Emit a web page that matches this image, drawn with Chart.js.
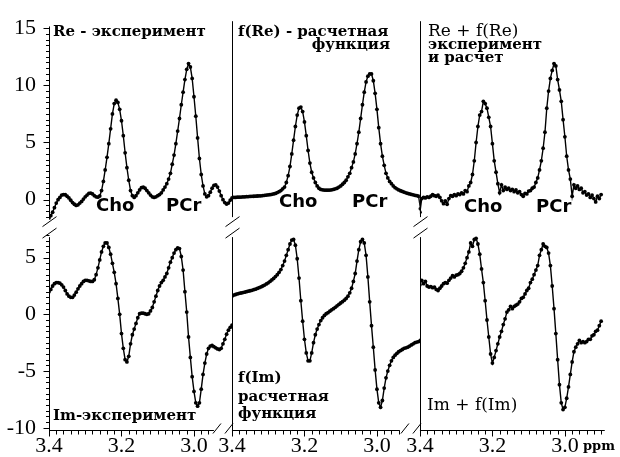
<!DOCTYPE html>
<html>
<head>
<meta charset="utf-8">
<script src="https://cdn.jsdelivr.net/npm/chart.js@4.4.1/dist/chart.umd.min.js"></script>
<style>
  html, body { margin: 0; padding: 0; background: #fff; }
  #wrap { position: relative; width: 620px; height: 457px; overflow: hidden; }
  #chart { position: absolute; left: 0; top: 0; }
  .lbl { position: absolute; color: #000; white-space: nowrap; line-height: 1; }
  .sb { font-family: "DejaVu Serif"; font-weight: bold; font-size: 15px; }
  .sr { font-family: "DejaVu Serif"; font-size: 17px; }
  .pk { font-family: "DejaVu Sans"; font-weight: bold; font-size: 18px; }
  .unit { font-family: "DejaVu Serif"; font-weight: bold; font-size: 13px; }
</style>
</head>
<body>
<div id="wrap">
  <canvas id="chart" width="620" height="457"></canvas>

  <div class="lbl sb" style="left:53px;top:24px">Re - эксперимент</div>
  <div class="lbl pk" style="left:96px;top:196px">Cho</div>
  <div class="lbl pk" style="left:166px;top:196px">PCr</div>

  <div class="lbl sb" style="left:238px;top:24px">f(Re) - расчетная</div>
  <div class="lbl sb" style="right:230px;top:37px">функция</div>
  <div class="lbl pk" style="left:279px;top:192px">Cho</div>
  <div class="lbl pk" style="left:352px;top:192px">PCr</div>

  <div class="lbl sr" style="left:428px;top:22px">Re + f(Re)</div>
  <div class="lbl sb" style="left:428px;top:37px">эксперимент</div>
  <div class="lbl sb" style="left:428px;top:50px">и расчет</div>
  <div class="lbl pk" style="left:464px;top:197px">Cho</div>
  <div class="lbl pk" style="left:536px;top:197px">PCr</div>

  <div class="lbl sb" style="left:53px;top:408px">Im-эксперимент</div>
  <div class="lbl sb" style="left:238px;top:370px">f(Im)</div>
  <div class="lbl sb" style="left:238px;top:389px">расчетная</div>
  <div class="lbl sb" style="left:238px;top:406px">функция</div>
  <div class="lbl sr" style="left:427px;top:396px">Im + f(Im)</div>

  <div class="lbl unit" style="left:583px;top:439px">ppm</div>
</div>

<script>
/* MRS spectra: Re / Im parts, experiment vs. calculated function */

// chemical shift, ppm (shared by every panel)
const ppm = [
  3.400, 3.395, 3.390, 3.385, 3.380, 3.375, 3.370, 3.365, 3.360, 3.355,
  3.350, 3.345, 3.340, 3.335, 3.330, 3.325, 3.320, 3.315, 3.310, 3.305,
  3.300, 3.295, 3.290, 3.285, 3.280, 3.275, 3.270, 3.265, 3.260, 3.255,
  3.250, 3.245, 3.240, 3.235, 3.230, 3.225, 3.220, 3.215, 3.210, 3.205,
  3.200, 3.195, 3.190, 3.185, 3.180, 3.175, 3.170, 3.165, 3.160, 3.155,
  3.150, 3.145, 3.140, 3.135, 3.130, 3.125, 3.120, 3.115, 3.110, 3.105,
  3.100, 3.095, 3.090, 3.085, 3.080, 3.075, 3.070, 3.065, 3.060, 3.055,
  3.050, 3.045, 3.040, 3.035, 3.030, 3.025, 3.020, 3.015, 3.010, 3.005,
  3.000, 2.995, 2.990, 2.985, 2.980, 2.975, 2.970, 2.965, 2.960, 2.955,
  2.950, 2.945, 2.940, 2.935, 2.930, 2.925, 2.920, 2.915, 2.910, 2.905,
  2.900, 2.895, 2.890, 2.885, 2.880
];

// Re - эксперимент
const reExp = [
  -1.6, -1.4, -1.1, -0.7, -0.3, 0.0, 0.2, 0.4, 0.45, 0.43,
  0.3, 0.15, -0.05, -0.25, -0.4, -0.5, -0.45, -0.3, -0.15, 0.05,
  0.25, 0.4, 0.55, 0.58, 0.5, 0.35, 0.25, 0.22, 0.32, 0.8,
  1.6, 2.6, 3.7, 4.9, 6.2, 7.5, 8.4, 8.7, 8.5, 7.9,
  6.9, 5.6, 4.1, 2.8, 1.7, 0.8, 0.35, 0.2, 0.35, 0.6,
  0.85, 1.05, 1.1, 1.0, 0.8, 0.6, 0.4, 0.25, 0.2, 0.25,
  0.35, 0.45, 0.6, 0.85, 1.1, 1.4, 1.8, 2.3, 3.1, 3.9,
  4.9, 6.0, 7.1, 8.3, 9.4, 10.5, 11.4, 11.9, 11.6, 10.6,
  9.0, 7.3, 5.4, 3.6, 2.2, 1.2, 0.5, 0.25, 0.35, 0.65,
  1.0, 1.25, 1.3, 1.1, 0.75, 0.35, 0.0, -0.25, -0.38, -0.3,
  -0.05, 0.15, null, null, null
];

// f(Re) - расчетная функция
const reFit = [
  0.2, 0.2, 0.2, 0.22, 0.22, 0.23, 0.24, 0.25, 0.26, 0.27,
  0.28, 0.29, 0.3, 0.31, 0.32, 0.33, 0.34, 0.36, 0.38, 0.4,
  0.42, 0.44, 0.47, 0.5, 0.55, 0.62, 0.7, 0.8, 0.95, 1.1,
  1.5, 2.1, 2.9, 4.0, 5.2, 6.4, 7.4, 8.0, 8.1, 7.7,
  6.8, 5.6, 4.3, 3.2, 2.4, 1.9, 1.5, 1.2, 1.0, 0.9,
  0.86, 0.84, 0.83, 0.83, 0.84, 0.86, 0.9, 0.95, 1.0, 1.1,
  1.2, 1.35, 1.5, 1.7, 2.0, 2.3, 2.8, 3.3, 4.0, 4.9,
  5.9, 7.1, 8.3, 9.4, 10.3, 10.8, 11.0, 11.0, 10.4, 9.3,
  7.9, 6.3, 4.9, 3.8, 3.0, 2.3, 1.9, 1.6, 1.4, 1.2,
  1.05, 0.95, 0.85, 0.78, 0.72, 0.66, 0.6, 0.55, 0.5, 0.46,
  0.42, 0.38, 0.35, 0.3, -0.8
];

// Re + f(Re)
const reSum = [
  -1.1, 0.1, 0.2, 0.15, 0.25, 0.2, 0.3, 0.45, 0.35, 0.3,
  0.4, 0.2, -0.1, -0.35, -0.1, -0.4, 0.1, 0.35, 0.3, 0.45,
  0.35, 0.5, 0.45, 0.6, 0.5, 0.8, 0.7, 1.2, 1.5, 2.2,
  3.4, 5.0, 6.4, 7.4, 7.7, 8.6, 8.4, 8.0, 7.2, 6.4,
  4.9, 3.4, 2.4, 1.4, 0.6, 1.3, 0.8, 1.1, 0.9, 1.0,
  0.8, 0.9, 0.7, 0.85, 0.6, 0.7, 0.45, 0.3, 0.55, 0.5,
  0.75, 0.8, 1.0, 1.1, 1.5, 1.9, 2.6, 3.4, 4.5, 5.9,
  8.0, 9.5, 10.6, 11.3, 11.9, 11.7, 10.5, 9.6, 8.6, 7.0,
  5.5, 3.8, 2.6, 1.8, 0.3, 1.3, 1.0, 1.2, 0.9, 1.0,
  0.6, 0.7, 0.4, 0.5, 0.2, 0.4, 0.1, -0.2, 0.3, 0.1,
  0.45, null, null, null, null
];

// Im - эксперимент
const imExp = [
  2.0, 2.2, 2.5, 2.7, 2.8, 2.8, 2.75, 2.6, 2.4, 2.1,
  1.8, 1.6, 1.5, 1.5, 1.7, 1.95, 2.25, 2.5, 2.7, 2.9,
  3.0, 3.0, 2.95, 2.9, 2.9, 3.05, 3.5, 4.1, 4.8, 5.5,
  6.0, 6.3, 6.3, 5.9, 5.3, 4.5, 3.7, 2.7, 1.4, 0.0,
  -1.7, -3.0, -4.0, -4.2, -3.7, -2.6, -1.8, -1.3, -0.8, -0.3,
  0.05, 0.1, 0.1, 0.05, 0.0, 0.05, 0.3, 0.6, 1.1, 1.6,
  2.1, 2.5, 2.8, 3.0, 3.3, 3.6, 4.1, 4.6, 5.0, 5.4,
  5.7, 5.85, 5.8, 5.1, 3.9, 2.0, 0.2, -2.0, -3.8, -5.5,
  -6.8, -7.8, -8.1, -7.8, -6.6, -5.3, -4.3, -3.5, -3.0, -2.8,
  -2.75, -2.85, -2.95, -3.05, -3.1, -3.0, -2.6, -2.2, -1.75, -1.4,
  -1.15, -0.95, null, null, null
];

// f(Im) - расчетная функция
const imFit = [
  1.6, 1.7, 1.75, 1.8, 1.85, 1.88, 1.92, 1.95, 2.0, 2.04,
  2.08, 2.12, 2.17, 2.22, 2.28, 2.35, 2.42, 2.5, 2.58, 2.68,
  2.78, 2.9, 3.03, 3.17, 3.33, 3.5, 3.7, 3.95, 4.3, 4.7,
  5.2, 5.7, 6.2, 6.55, 6.6, 6.1, 4.9, 3.2, 1.2, -0.6,
  -2.2, -3.4, -4.1, -4.1, -3.4, -2.5, -1.8, -1.3, -0.9, -0.55,
  -0.3, -0.1, 0.05, 0.15, 0.28, 0.4, 0.5, 0.62, 0.75, 0.87,
  1.0, 1.12, 1.25, 1.4, 1.6, 1.9, 2.3, 2.9, 3.6, 4.7,
  5.7, 6.4, 6.6, 6.3, 5.2, 3.3, 1.1, -1.0, -2.9, -4.9,
  -6.6, -7.8, -8.2, -7.6, -6.5, -5.6, -5.0, -4.5, -4.1, -3.8,
  -3.6, -3.45, -3.3, -3.2, -3.1, -3.0, -2.95, -2.9, -2.8, -2.7,
  -2.6, -2.5, -2.45, -2.4, -2.3
];

// Im + f(Im)
const imSum = [
  2.6, 3.0, 2.7, 2.9, 2.5, 2.4, 2.45, 2.35, 2.4, 2.2,
  2.1, 2.3, 2.5, 2.7, 2.8, 2.75, 3.0, 3.2, 3.4, 3.3,
  3.45, 3.5, 3.6, 3.8, 4.1, 4.5, 5.0, 5.5, 6.3, 6.0,
  6.6, 6.7, 6.2, 5.3, 4.0, 2.8, 1.2, -0.5, -2.0, -3.5,
  -4.3, -3.8, -3.2, -2.6, -2.0, -1.5, -0.9, -0.4, 0.2, 0.4,
  0.7, 0.5, 0.7, 0.8, 0.9, 1.1, 1.4, 1.5, 1.8, 2.1,
  2.3, 2.8, 3.1, 3.5, 3.9, 4.3, 5.2, 5.7, 6.2, 6.0,
  5.9, 5.4, 4.3, 2.5, 0.5, -1.7, -4.0, -6.2, -7.8, -8.4,
  -8.2, -7.4, -6.4, -5.3, -4.2, -3.3, -2.9, -2.6, -2.3, -2.5,
  -2.4, -2.5, -2.4, -2.2, -2.2, -1.9, -1.8, -1.5, -1.4, -1.0,
  -0.6, null, null, null, null
];

const xTicks = [3.4, 3.2, 3.0];
const topTicks = [0, 5, 10, 15];
const botTicks = [-10, -5, 0, 5];
const xAxisEnd = [2.945, 2.937, 2.89]; // where each drawn ppm axis stops

const tickFont = { family: "Liberation Serif", size: 22 };

function series(vals, xId, yId) {
  return {
    data: ppm.map((x, i) => ({ x: x, y: vals[i] })),
    xAxisID: xId,
    yAxisID: yId,
    borderColor: "#000",
    backgroundColor: "#000",
    borderWidth: 1.4,
    pointRadius: 1.9,
    pointBorderWidth: 0,
    tension: 0
  };
}

function xScale(min, weight) {
  return {
    type: "linear",
    position: "bottom",
    stack: "ppm",
    stackWeight: weight,
    reverse: true,
    min: min,
    max: 3.4,
    grid: { display: false, drawTicks: false },
    border: { display: false },
    ticks: {
      font: tickFont, color: "#000", padding: 3, maxRotation: 0, autoSkip: false,
      callback: v => v.toFixed(1)
    },
    afterBuildTicks: s => { s.ticks = xTicks.map(v => ({ value: v })); },
    afterFit: s => { s.height = 27; }
  };
}

function yScale(min, max, weight, list) {
  return {
    type: "linear",
    position: "left",
    stack: "amp",
    stackWeight: weight,
    min: min,
    max: max,
    grid: { display: false, drawTicks: false },
    border: { display: false },
    ticks: { font: tickFont, color: "#000", padding: 13, callback: v => String(v) },
    afterBuildTicks: s => { s.ticks = list.map(v => ({ value: v })); },
    afterFit: s => { s.width = 49; }
  };
}

// axis lines, minor ticks, panel dividers and the "//" breaks
const framePlugin = {
  id: "frame",
  afterDraw(chart) {
    const { ctx, scales } = chart;
    const { x1, x2, x3, yTop, yBot } = scales;
    const gap = yTop.bottom;
    const base = Math.round(x1.top) + 0.5;
    const top = yTop.top - 5;
    const seg = (ax, ay, bx, by) => { ctx.beginPath(); ctx.moveTo(ax, ay); ctx.lineTo(bx, by); ctx.stroke(); };
    const slash = (cx, cy, w, h) => seg(cx - w, cy + h, cx + w, cy - h);

    ctx.save();
    ctx.strokeStyle = "#000";
    ctx.lineWidth = 1;

    // left amplitude axis
    const ax = Math.round(yTop.right) + 0.5;
    seg(ax, yTop.getPixelForValue(15.15), ax, gap - 10);
    seg(ax, gap + 10, ax, base);
    for (let i = -3; i <= 30; i++) {
      const y = Math.round(yTop.getPixelForValue(i / 2)) + 0.5;
      seg(ax - (i % 10 === 0 ? 6 : 3.5), y, ax, y);
    }
    for (let i = -20; i <= 14; i++) {
      const y = Math.round(yBot.getPixelForValue(i / 2)) + 0.5;
      seg(ax - (i % 10 === 0 ? 6 : 3.5), y, ax, y);
    }
    slash(ax, gap - 5.5, 7, 5);
    slash(ax, gap + 6, 7, 5);

    // vertical dividers between panels
    [x2, x3].forEach(s => {
      const dx = Math.round(s.left) + 0.5;
      seg(dx, top, dx, gap - 10);
      seg(dx, gap + 10, dx, base);
      slash(dx, gap - 5.5, 7, 5);
      slash(dx, gap + 6, 7, 5);
    });

    // ppm axes
    [x1, x2, x3].forEach((s, k) => {
      seg(s.getPixelForValue(3.4), base, s.getPixelForValue(xAxisEnd[k]), base);
      for (let i = 0; 3.4 - i * 0.02 >= xAxisEnd[k] - 1e-9; i++) {
        const x = Math.round(s.getPixelForValue(3.4 - i * 0.02)) + 0.5;
        seg(x, base, x, base + (i % 10 === 0 ? 6 : 4));
      }
    });
    [x2, x3].forEach(s => {
      slash(s.left - 15, base - 2, 4, 5);
      slash(s.left - 3, base - 2, 4, 5);
    });

    ctx.restore();
  }
};

new Chart(document.getElementById("chart"), {
  type: "line",
  data: {
    datasets: [
      series(reExp, "x1", "yTop"),
      series(reFit, "x2", "yTop"),
      series(reSum, "x3", "yTop"),
      series(imExp, "x1", "yBot"),
      series(imFit, "x2", "yBot"),
      series(imSum, "x3", "yBot")
    ]
  },
  options: {
    responsive: false,
    animation: false,
    events: [],
    layout: { padding: { top: 18, right: 8, left: 0, bottom: 0 } },
    plugins: { legend: { display: false }, tooltip: { enabled: false } },
    scales: {
      x1: xScale(2.8952, 183),
      x2: xScale(2.8814, 188),
      x3: xScale(2.8703, 192),
      yBot: yScale(-10.2, 7.69, 207, botTicks),
      yTop: yScale(-2.4, 15.17, 205, topTicks)
    }
  },
  plugins: [framePlugin]
});
</script>
</body>
</html>
